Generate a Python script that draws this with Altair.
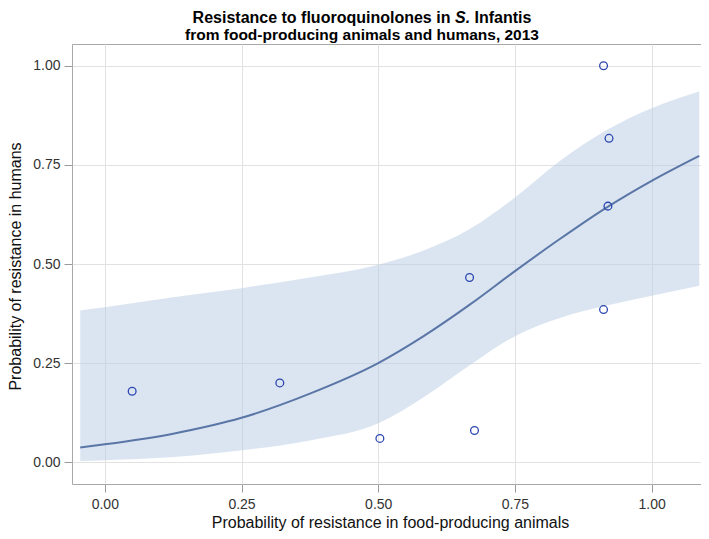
import altair as alt
import pandas as pd

# Observed points (animals, humans)
pt_x = [0.05, 0.32, 0.503, 0.667, 0.676, 0.912, 0.922, 0.920, 0.912]
pt_y = [0.179, 0.200, 0.060, 0.466, 0.080, 1.000, 0.817, 0.646, 0.385]

# Fitted curve and confidence band
cx = [-0.045, 0.0, 0.125, 0.25, 0.375, 0.5, 0.583, 0.668, 0.75, 0.832, 0.918, 1.0, 1.087]
fit = [0.037, 0.045, 0.072, 0.112, 0.173, 0.25, 0.318, 0.398, 0.482, 0.563, 0.643, 0.71, 0.773]
lower = [0.003, 0.005, 0.013, 0.03, 0.055, 0.098, 0.164, 0.245, 0.318, 0.364, 0.395, 0.42, 0.445]
upper = [0.383, 0.391, 0.416, 0.439, 0.466, 0.498, 0.534, 0.589, 0.668, 0.76, 0.838, 0.893, 0.935]

ticks = [0.0, 0.25, 0.5, 0.75, 1.0]
x_title = "Probability of resistance in food-producing animals"
y_title = "Probability of resistance in humans"
title1_a = "Resistance to fluoroquinolones in"
title1_b = "S."
title1_c = "Infantis"
title2 = "from food-producing animals and humans, 2013"

FONT = "Liberation Sans, Arial, Helvetica, sans-serif"

pts = pd.DataFrame({"x": pt_x, "y": pt_y})
curve = pd.DataFrame({"x": cx, "fit": fit, "lower": lower, "upper": upper})

xs = alt.Scale(domain=[-0.06, 1.103], nice=False, zero=False)
ys = alt.Scale(domain=[-0.055, 1.055], nice=False, zero=False)

xax = alt.Axis(values=ticks, format=".2f", title=x_title, grid=True, domain=False,
               tickSize=8, labelPadding=5,
               titleY=43.5, titleBaseline="alphabetic", titleAlign="center")
yax = alt.Axis(values=ticks, format=".2f", title=y_title, grid=True, domain=False,
               tickSize=8, labelPadding=4,
               titleX=-51.5, titleY=222, titleAngle=270, titleBaseline="alphabetic",
               titleAlign="center")

band = alt.Chart(curve).mark_area(color="#b8cce4", opacity=0.5, interpolate="monotone").encode(
    x=alt.X("x:Q", scale=xs, axis=xax),
    y=alt.Y("lower:Q", scale=ys, axis=yax),
    y2="upper:Q",
)
line = alt.Chart(curve).mark_line(color="#5a76a6", strokeWidth=2, interpolate="monotone").encode(
    x=alt.X("x:Q", scale=xs),
    y=alt.Y("fit:Q", scale=ys),
)
points = alt.Chart(pts).mark_point(shape="circle", filled=False, color="#2a45b0",
                                   strokeWidth=1.3, size=60, opacity=1).encode(
    x=alt.X("x:Q", scale=xs),
    y=alt.Y("y:Q", scale=ys),
)

tdf = pd.DataFrame({"a": [title1_a], "b": [title1_b], "c": [title1_c], "d": [title2]})
base_t = alt.Chart(tdf)
T1Y = -21.5
t1a = base_t.mark_text(font=FONT, fontSize=16, fontWeight="bold", align="right",
                       baseline="alphabetic", color="#000000").encode(
    text="a:N", x=alt.value(378.4), y=alt.value(T1Y))
t1b = base_t.mark_text(font=FONT, fontSize=16, fontWeight="bold", fontStyle="italic",
                       align="left", baseline="alphabetic", color="#000000").encode(
    text="b:N", x=alt.value(383), y=alt.value(T1Y))
t1c = base_t.mark_text(font=FONT, fontSize=16, fontWeight="bold", align="left",
                       baseline="alphabetic", color="#000000").encode(
    text="c:N", x=alt.value(402.5), y=alt.value(T1Y))
t2 = base_t.mark_text(font=FONT, fontSize=15.5, fontWeight="bold", align="center",
                      baseline="alphabetic", color="#000000").encode(
    text="d:N", x=alt.value(290), y=alt.value(-4))

chart = alt.layer(band, line, points, t1a, t1b, t1c, t2).properties(
    width=636, height=440,
    autosize=alt.AutoSizeParams(type="none"),
    padding={"left": 64, "top": 36, "right": -7, "bottom": 47},
    background="white",
).configure_view(
    stroke="#a8a8a8", strokeWidth=1
).configure_axis(
    labelFont=FONT, titleFont=FONT, labelFontSize=14, titleFontSize=16,
    labelColor="#333333", titleColor="#111111", titleFontWeight="normal",
    gridColor="#e2e2e2", gridWidth=1, tickColor="#9a9a9a", tickWidth=1,
)

chart.save("out.html", embed_options={"renderer": "svg", "actions": False})
